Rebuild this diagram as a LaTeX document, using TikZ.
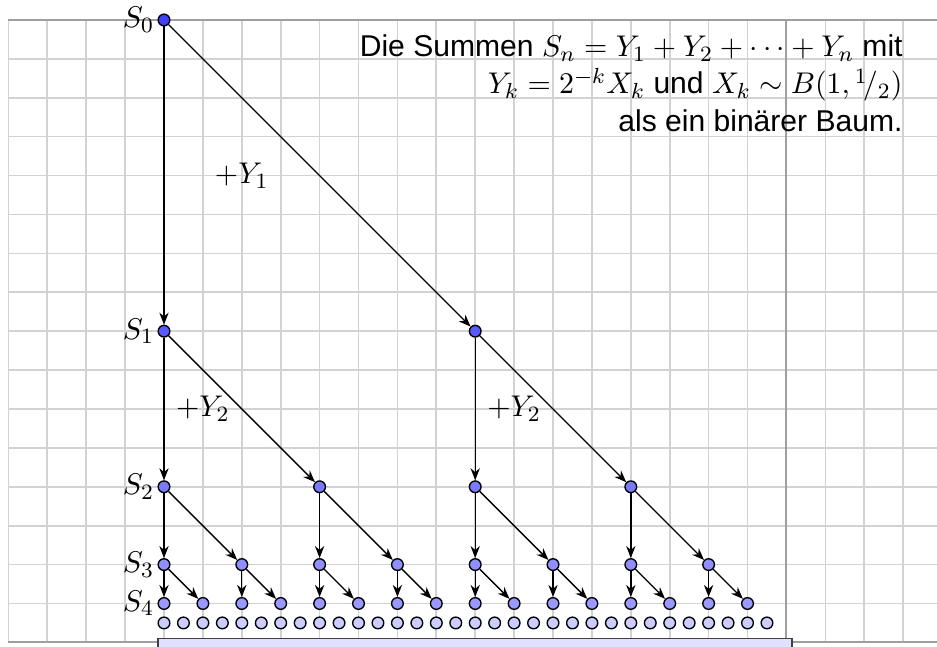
\documentclass[tikz,border=0pt]{standalone}
\usepackage{fontspec}
\newfontfamily\helv{Liberation Sans}
\usetikzlibrary{arrows.meta}
\colorlet{c0}{blue!75}
\colorlet{c1}{blue!65}
\colorlet{c2}{blue!52}
\colorlet{c3}{blue!44}
\colorlet{c4}{blue!40}
\colorlet{c5}{blue!20}
\tikzset{
  dot/.style={circle, draw=black, line width=0.5pt, inner sep=0pt, minimum size=0.3*0.5cm},
  arr/.style={-{Stealth[length=4.4pt,width=3.4pt]}, line width=0.5pt, black},
  slabel/.style={anchor=east, inner sep=1pt},
  gridline/.style={gray!35, line width=0.6pt},
  darkline/.style={gray!75, line width=0.7pt},
}
\begin{document}
\begin{tikzpicture}[x=0.5cm, y=0.5cm, font=\fontsize{11}{13.6}\selectfont]
\useasboundingbox (-4.216,-0.093) rectangle (19.871,16.514);
% grid
\draw[gridline, step=0.5cm] (-4,0) grid (19.871,16);
\draw[darkline] (-4,16) -- (19.871,16);
\draw[darkline] (-4,0) -- (19.871,0);
\draw[darkline] (16,0) -- (16,16);
% bottom bar
\draw[fill=blue!12, draw=black!75, line width=0.6pt] (-0.15,-0.5) rectangle (16.15,0.1);
% nodes
\foreach \L/\n/\s in {0/1/16, 1/2/8, 2/4/4, 3/8/2, 4/16/1, 5/32/0.5} {
  \foreach \i in {1,...,\n} {
    \node[dot, fill=c\L] (n\L-\i) at ({(\i-1)*\s}, {\s}) {};
  }
}
% edges
\foreach \L/\n in {0/1, 1/2, 2/4, 3/8} {
  \pgfmathtruncatemacro\M{\L+1}
  \foreach \i in {1,...,\n} {
    \pgfmathtruncatemacro\a{2*\i-1}
    \pgfmathtruncatemacro\b{2*\i}
    \draw[arr] (n\L-\i) -- (n\M-\a);
    \draw[arr] (n\L-\i) -- (n\M-\b);
  }
}
% level labels
\foreach \L in {0,...,4} {
  \node[slabel] (s\L) at (n\L-1.west) {$S_{\L}$};
}
% increment labels
\node (y1) at (2,12) {$+Y_1$};
\node (y2a) at (1,6) {$+Y_2$};
\node (y2b) at (9,6) {$+Y_2$};
% title
\node[anchor=north east, align=right, inner sep=0pt, font=\fontsize{11}{13.6}\selectfont\helv] (title) at (19.0,15.63)
  {Die Summen $S_n = Y_1 + Y_2 + \cdots + Y_n$ mit\\
   $Y_k = 2^{-k} X_k$ und $X_k \sim B(1, {}^1\!/{}_2)$\\
   als ein binärer Baum.};
\end{tikzpicture}
\end{document}
